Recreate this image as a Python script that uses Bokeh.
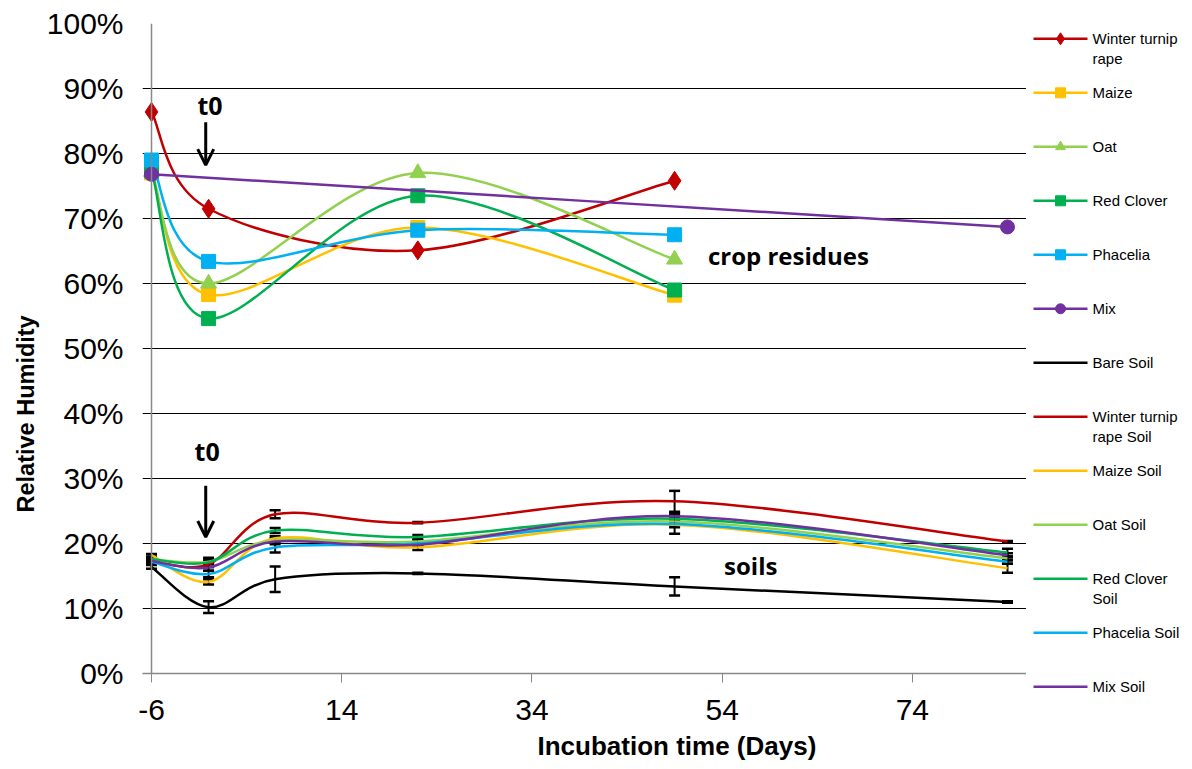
import math
from bokeh.plotting import figure
from bokeh.layouts import row
from bokeh.models import (Range1d, FixedTicker, PrintfTickFormatter, ColumnDataSource,
                          Whisker, TeeHead, Arrow, OpenHead, Label, Title, Span)
from bokeh.core.properties import value
from bokeh.embed import file_html
from bokeh.resources import INLINE

# ---------------- data ----------------
days_res = [-6, 0, 22, 49]
wtr = [86.4, 71.5, 65.1, 75.8]
maize = [77.0, 58.3, 68.6, 58.2]
oat = [77.2, 60.0, 77.0, 63.7]
red_clover = [77.3, 54.6, 73.5, 59.0]
phacelia = [79.0, 63.4, 68.2, 67.5]
days_mix = [-6, 84]
mix = [76.8, 68.7]

days_soil = [-6, 0, 7, 22, 49, 84]
bare_soil = [16.4, 10.2, 14.5, 15.4, 13.4, 11.0]
wtr_soil = [17.3, 16.8, 24.5, 23.2, 26.5, 20.3]
maize_soil = [18.2, 14.1, 20.8, 19.4, 22.9, 16.2]
oat_soil = [17.6, 17.2, 20.5, 20.3, 23.4, 17.7]
rc_soil = [17.6, 17.1, 22.0, 21.0, 23.8, 18.6]
phacelia_soil = [17.2, 15.3, 19.4, 20.0, 23.0, 17.2]
mix_soil = [17.3, 16.3, 20.3, 19.8, 24.2, 18.2]

bare_err = [0.3, 0.9, 1.95, 0.1, 1.4, 0.1]
wtr_soil_err = [0.2, 0.4, 0.6, 0.1, 1.6, 0.1]
maize_soil_err = [0.2, 0.4, 0.3, 0.4, 1.4, 0.7]
oat_soil_err = [0.2, 0.3, 0.3, 0.2, 0.5, 0.3]
rc_soil_err = [0.2, 0.7, 0.4, 0.3, 0.5, 0.6]
phacelia_soil_err = [0.2, 0.5, 0.8, 0.2, 0.5, 0.3]
mix_soil_err = [0.2, 0.5, 0.4, 0.2, 0.5, 0.3]

x_min, x_max = -6, 86
x_ticks = [-6, 14, 34, 54, 74]
y_ticks = [0, 10, 20, 30, 40, 50, 60, 70, 80, 90, 100]

RED = "#C00000"; YEL = "#FFC000"; LGR = "#92D050"; GRN = "#00B050"
BLU = "#00B0F0"; PUR = "#7030A0"; BLK = "#000000"

residues = [
    ("Winter turnip\nrape", days_res, wtr, RED, "diamond", 19),
    ("Maize", days_res, maize, YEL, "square", 14),
    ("Oat", days_res, oat, LGR, "triangle", 16),
    ("Red Clover", days_res, red_clover, GRN, "square", 14),
    ("Phacelia", days_res, phacelia, BLU, "square", 14),
    ("Mix", days_mix, mix, PUR, "circle", 14),
]
soils = [
    ("Bare Soil", bare_soil, bare_err, BLK),
    ("Winter turnip\nrape Soil", wtr_soil, wtr_soil_err, RED),
    ("Maize Soil", maize_soil, maize_soil_err, YEL),
    ("Oat Soil", oat_soil, oat_soil_err, LGR),
    ("Red Clover\nSoil", rc_soil, rc_soil_err, GRN),
    ("Phacelia Soil", phacelia_soil, phacelia_soil_err, BLU),
    ("Mix Soil", mix_soil, mix_soil_err, PUR),
]


def smooth_segments(xs, ys):
    """Bezier segments through the points (Excel-like smoothed line)."""
    n = len(xs)
    seg = dict(x0=[], y0=[], x1=[], y1=[], cx0=[], cy0=[], cx1=[], cy1=[])
    for i in range(n - 1):
        a = i - 1 if i > 0 else i
        d = i + 2 if i + 2 < n else i + 1
        seg["x0"].append(xs[i]); seg["y0"].append(ys[i])
        seg["x1"].append(xs[i + 1]); seg["y1"].append(ys[i + 1])
        seg["cx0"].append(xs[i] + (xs[i + 1] - xs[a]) / 6.0)
        seg["cy0"].append(ys[i] + (ys[i + 1] - ys[a]) / 6.0)
        seg["cx1"].append(xs[i + 1] - (xs[d] - xs[i]) / 6.0)
        seg["cy1"].append(ys[i + 1] - (ys[d] - ys[i]) / 6.0)
    return seg


FONT = "Liberation Sans"
ANNOT_FONT = "Open Sans"

# the frame starts a few pixels left of the value axis so that markers at x=-6
# are not cut, and the horizontal grid lines stick out left like Excel's ticks
pad = 9.0 / 9.5
p = figure(width=1026, height=769, x_range=Range1d(x_min - pad, x_max), y_range=Range1d(0, 100),
           toolbar_location=None, output_backend="svg",
           min_border_left=142, min_border_right=0, min_border_top=23, min_border_bottom=96)
p.outline_line_color = None
p.background_fill_color = "white"
p.border_fill_color = "white"

p.xaxis.ticker = FixedTicker(ticks=x_ticks)
p.xaxis.major_label_overrides = {-6: "-6"}
p.yaxis.ticker = FixedTicker(ticks=y_ticks)
p.yaxis.formatter = PrintfTickFormatter(format="%d%%")
p.xgrid.grid_line_color = None
p.ygrid.ticker = FixedTicker(ticks=y_ticks)
p.ygrid.grid_line_color = "#000000"
p.ygrid.grid_line_width = 1
for ax in (p.xaxis, p.yaxis):
    ax.axis_line_color = "#888888"
    ax.axis_line_width = 1.5
    ax.major_tick_line_color = "#888888"
    ax.major_tick_in = 0
    ax.major_tick_out = 9
    ax.minor_tick_line_color = None
    ax.major_label_text_font = FONT
    ax.major_label_text_font_size = "30px"
    ax.major_label_text_color = "#000000"
p.yaxis.axis_line_color = None
p.yaxis.major_tick_line_color = None
p.yaxis.major_tick_out = 0
p.yaxis.major_label_standoff = 19
p.xaxis.major_label_standoff = 17
# value axis line at x = -6
p.add_layout(Span(location=x_min, dimension="height", line_color="#888888", line_width=1.5))

# axis titles (offset along the axis as in the original)
p.add_layout(Title(text="Incubation time (Days)", align="left", offset=395,
                   text_font=FONT, text_font_style="bold", text_font_size="26px",
                   text_color="#000000", standoff=12), "below")
p.add_layout(Title(text="Relative Humidity", align="left", offset=161,
                   text_font=FONT, text_font_style="bold", text_font_size="23.5px",
                   text_color="#000000", standoff=10), "left")

# crop residue series (smoothed lines with markers)
for name, xs, ys, col, mk, sz in residues:
    p.bezier(source=ColumnDataSource(smooth_segments(xs, ys)),
             x0="x0", y0="y0", x1="x1", y1="y1", cx0="cx0", cy0="cy0", cx1="cx1", cy1="cy1",
             line_color=col, line_width=2.5)
    p.scatter(xs, ys, marker=mk, size=sz, fill_color=col, line_color=col)

# soil series (smoothed lines, error bars)
for name, ys, errs, col in soils:
    p.bezier(source=ColumnDataSource(smooth_segments(days_soil, ys)),
             x0="x0", y0="y0", x1="x1", y1="y1", cx0="cx0", cy0="cy0", cx1="cx1", cy1="cy1",
             line_color=col, line_width=2.5)
for name, ys, errs, col in soils:
    src = ColumnDataSource(dict(x=days_soil,
                                lo=[v - e for v, e in zip(ys, errs)],
                                hi=[v + e for v, e in zip(ys, errs)]))
    p.add_layout(Whisker(source=src, base="x", lower="lo", upper="hi",
                         line_color="black", line_width=2,
                         upper_head=TeeHead(size=11, line_width=2.5, line_color="black"),
                         lower_head=TeeHead(size=11, line_width=2.5, line_color="black")))

# annotations
for ys, ye in ((84.8, 78.2), (28.9, 21.0)):
    p.add_layout(Arrow(end=OpenHead(size=16, line_width=3, line_color="black"),
                       x_start=-0.3, y_start=ys, x_end=-0.3, y_end=ye,
                       line_width=3, line_color="black"))
for tx, ty in ((0.15, 87.5), (-0.15, 34.3)):
    p.add_layout(Label(x=tx, y=ty, text="t0", text_font=ANNOT_FONT, text_font_style="bold",
                       text_font_size="25px", text_align="center", text_baseline="middle",
                       text_color="#000000"))
p.add_layout(Label(x=52.5, y=64.3, text="crop residues", text_font=ANNOT_FONT,
                   text_font_style="bold", text_font_size="24px", text_baseline="middle",
                   text_color="#000000"))
p.add_layout(Label(x=54.2, y=16.6, text="soils", text_font=ANNOT_FONT,
                   text_font_style="bold", text_font_size="24px", text_baseline="middle",
                   text_color="#000000"))

# ---------------- legend panel ----------------
leg = figure(width=166, height=769, x_range=Range1d(0, 166), y_range=Range1d(769, 0),
             toolbar_location=None, output_backend="svg",
             x_axis_location=None, y_axis_location=None,
             min_border_left=0, min_border_right=0, min_border_top=0, min_border_bottom=0)
leg.frame_align = False
leg.outline_line_color = None
leg.grid.grid_line_color = None
entries = [(n, c, m) for n, _, _, c, m, _ in residues] + [(n, c, None) for n, _, _, c in soils]
for k, (n, c, m) in enumerate(entries):
    yc = 38.3 + 54 * k
    leg.segment(x0=[7], y0=[yc], x1=[61], y1=[yc], line_color=c, line_width=2.5)
    if m is not None:
        leg.scatter([34], [yc], marker=m, size=10 if m != "diamond" else 12,
                    fill_color=c, line_color=c)
    leg.text(x=[66], y=[yc - 9], text=[n], text_font=value(FONT), text_font_size="15px",
             text_baseline="top", text_line_height=1.2, text_color="#000000")

layout = row(p, leg)
open("out.html", "w").write(file_html(layout, INLINE))
